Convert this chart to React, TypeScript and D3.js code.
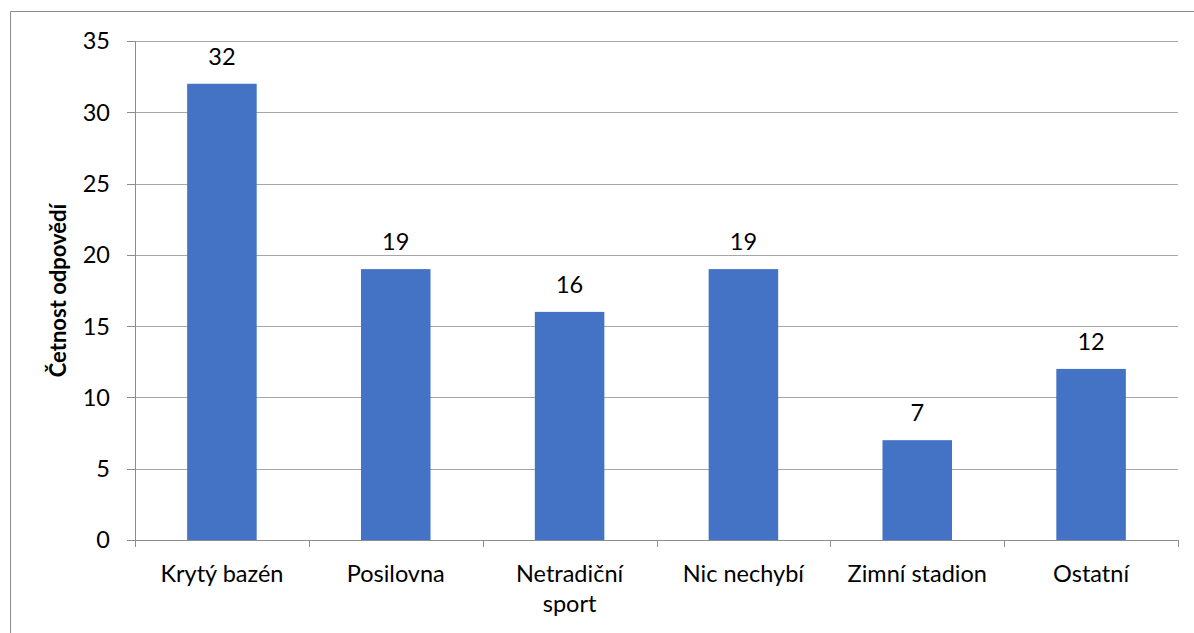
import React from "react";
import * as d3 from "d3";

const categories = ["Krytý bazén", "Posilovna", "Netradiční sport", "Nic nechybí", "Zimní stadion", "Ostatní"];
const categoryLines = [["Krytý bazén"], ["Posilovna"], ["Netradiční", "sport"], ["Nic nechybí"], ["Zimní stadion"], ["Ostatní"]];
const values = [32, 19, 16, 19, 7, 12];
const yTicks = [0, 5, 10, 15, 20, 25, 30, 35];
const yTitle = "Četnost odpovědí";

const W = 1194, H = 633;
const M = { left: 135, right: 1178, top: 41, bottom: 540 };
const FONT = "Lato, 'Open Sans', sans-serif";
const FS = 23.5;
const GRID = "#a6a6a6";
const AXIS = "#8c8c8c";
const BAR = "#4472C4";

export default function App() {
  const x = d3.scaleBand<string>().domain(categories).range([M.left, M.right]).paddingInner(0.6).paddingOuter(0.3);
  const xb = d3.scaleBand<string>().domain(categories).range([M.left, M.right]);
  const y = d3.scaleLinear().domain([0, 35]).range([M.bottom, M.top]);
  const boundaries = [...categories.map((c) => xb(c) as number), M.right];

  return (
    <svg width={W} height={H} style={{ position: "absolute", left: 0, top: 0 }} fontFamily={FONT}>
      <rect x={0} y={0} width={W} height={H} fill="#fff" />
      <path d={`M10.5,${H + 2} V11.5 H${W + 2}`} fill="none" stroke={AXIS} strokeWidth={1} />
      {yTicks.filter((t) => t > 0).map((t) => (
        <line key={t} x1={M.left} x2={M.right} y1={Math.round(y(t)) + 0.5} y2={Math.round(y(t)) + 0.5} stroke={GRID} strokeWidth={1} />
      ))}
      {yTicks.map((t) => (
        <line key={"t" + t} x1={127} x2={M.left} y1={Math.round(y(t)) + 0.5} y2={Math.round(y(t)) + 0.5} stroke={AXIS} />
      ))}
      {yTicks.map((t) => (
        <text key={"l" + t} x={110} y={y(t)} dy="0.36em" textAnchor="end" fontSize={FS} fill="#000">{t}</text>
      ))}
      {categories.map((c, i) => (
        <rect key={c} x={x(c)} y={y(values[i])} width={x.bandwidth()} height={M.bottom - y(values[i])} fill={BAR} />
      ))}
      {categories.map((c, i) => (
        <text key={"v" + c} x={(x(c) as number) + x.bandwidth() / 2} y={y(values[i]) - 19} textAnchor="middle" fontSize={FS} fill="#000">{values[i]}</text>
      ))}
      <line x1={M.left + 0.5} x2={M.left + 0.5} y1={M.top} y2={M.bottom + 7} stroke={AXIS} />
      <line x1={M.left - 8} x2={M.right} y1={M.bottom + 0.5} y2={M.bottom + 0.5} stroke={AXIS} />
      {boundaries.map((b, i) => (
        <line key={"b" + i} x1={Math.round(b) + 0.5} x2={Math.round(b) + 0.5} y1={M.bottom} y2={M.bottom + 7} stroke={AXIS} />
      ))}
      {categories.map((c, i) => (
        <text key={"c" + c} x={(xb(c) as number) + xb.bandwidth() / 2} y={582} textAnchor="middle" fontSize={FS} fill="#000">
          {categoryLines[i].map((ln, j) => (
            <tspan key={j} x={(xb(c) as number) + xb.bandwidth() / 2} dy={j === 0 ? 0 : 30}>{ln}</tspan>
          ))}
        </text>
      ))}
      <text transform={`translate(66,${(M.top + M.bottom) / 2}) rotate(-90)`} textAnchor="middle" fontSize={22} fontWeight="bold" fill="#000">{yTitle}</text>
    </svg>
  );
}
